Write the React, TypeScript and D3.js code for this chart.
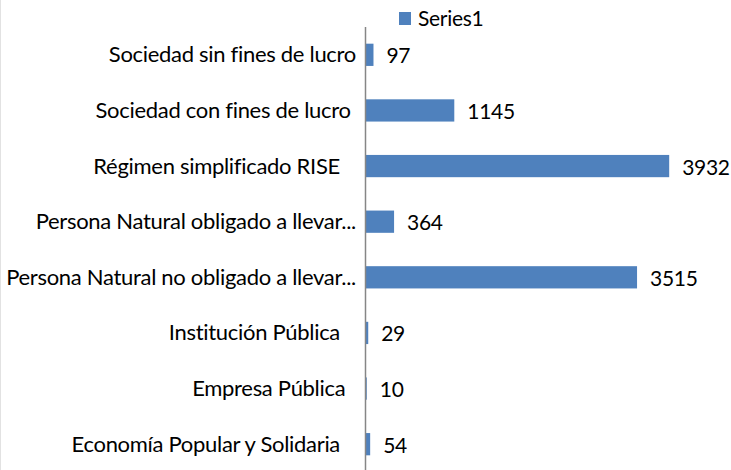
import React from "react";
import * as d3 from "d3";

const categories = [
  "Sociedad sin fines de lucro",
  "Sociedad con fines de lucro ",
  "Régimen simplificado RISE   ",
  "Persona Natural obligado a llevar...",
  "Persona Natural no obligado a llevar...",
  "Institución Pública   ",
  "Empresa Pública  ",
  "Economía Popular y Solidaria   ",
];
const values = [97, 1145, 3932, 364, 3515, 29, 10, 54];
const seriesName = "Series1";

const W = 731;
const H = 470;
const FONT = "Lato, 'Liberation Sans', sans-serif";
const BLUE = "#4F81BD";

export default function App() {
  const y = d3
    .scaleBand<number>()
    .domain(d3.range(categories.length))
    .range([27, 472])
    .paddingInner(0.6)
    .paddingOuter(0.3);
  const x = d3.scaleLinear().domain([0, 4500]).range([366, 713]);
  const bw = y.bandwidth();

  return (
    <svg
      width={W}
      height={H}
      style={{ position: "absolute", left: 0, top: 0, background: "#fff" }}
      fontFamily={FONT}
    >
      <rect x={0} y={0} width={W} height={H} fill="#fff" />
      <line x1={0.5} x2={0.5} y1={0} y2={H} stroke="#e2e2e2" strokeWidth={1} />
      {/* legend */}
      <rect x={399} y={12} width={12} height={13} fill={BLUE} />
      <text x={418} y={25.5} fontSize={21} letterSpacing={-0.3} fill="#000">
        {seriesName}
      </text>
      {values.map((v, i) => {
        const yc = (y(i) as number) + bw / 2;
        return (
          <g key={i}>
            <rect
              x={x(0)}
              y={y(i) as number}
              width={Math.max(0, x(v) - x(0))}
              height={bw}
              fill={BLUE}
            />
            <text
              x={356}
              y={yc + 7.5}
              fontSize={22}
              letterSpacing={-0.3}
              textAnchor="end"
              fill="#000"
              style={{ whiteSpace: "pre" }}
            >
              {categories[i]}
            </text>
            <text x={x(v) + 13} y={yc + 8.5} fontSize={21} letterSpacing={-0.3} fill="#000">
              {v}
            </text>
          </g>
        );
      })}
      <line x1={365.5} x2={365.5} y1={27} y2={H} stroke="#868686" strokeWidth={1.5} />
    </svg>
  );
}
